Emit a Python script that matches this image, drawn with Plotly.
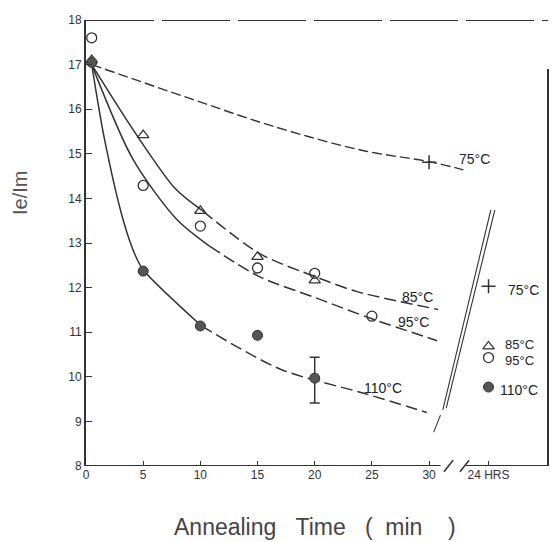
import plotly.graph_objects as go

# ---- data ----
# fitted curves
t_75_curve = [0.5, 9.2, 16.2, 24.1, 30.3, 33.0]
v_75_curve = [17.0, 16.23, 15.63, 15.08, 14.81, 14.64]

t_85_curve = [0.5, 4.2, 7.8, 10.2, 15.2, 20.2, 23.7, 30.8]
v_85_curve = [17.0, 15.51, 14.22, 13.72, 12.76, 12.23, 11.91, 11.51]

t_95_curve = [0.5, 4.1, 7.9, 10.8, 15.2, 20.0, 25.0, 30.7]
v_95_curve = [17.0, 14.88, 13.54, 12.93, 12.24, 11.78, 11.3, 10.81]

t_110_curve = [0.5, 1.6, 3.3, 4.3, 5.0, 10.1, 17.0, 24.3, 29.8]
v_110_curve = [17.0, 15.35, 13.47, 12.73, 12.4, 11.14, 10.17, 9.63, 9.2]

# measured points
t_75_pts = [30]
v_75_pts = [14.81]
t_85_pts = [0.5, 5, 10, 15, 20]
v_85_pts = [17.1, 15.42, 13.72, 12.69, 12.16]
t_95_pts = [0.5, 5, 10, 15, 20, 25]
v_95_pts = [17.6, 14.29, 13.38, 12.44, 12.32, 11.36]
t_110_pts = [0.5, 5, 10, 15, 20]
v_110_pts = [17.05, 12.37, 11.14, 10.93, 9.97]
err_110_plus = [0, 0, 0, 0, 0.47]
err_110_minus = [0, 0, 0, 0, 0.56]

# 24 hour values
t_24h = 35.2
v_24h = {"75": 12.03, "85": 10.68, "95": 10.43, "110": 9.77}

x_tickvals = [0, 5, 10, 15, 20, 25, 30, t_24h]
x_ticktext = ["0", "5", "10", "15", "20", "25", "30", "24 HRS"]
y_tickvals = [8, 9, 10, 11, 12, 13, 14, 15, 16, 17, 18]

INK = "#333333"
FONT = "Liberation Sans"
X_MAX = 40.4

# page offset (browser body margin) compensation
OFF = 8
W, H = 560 - OFF, 542 - OFF
PL, PT, PW, PH = 86, 20, 462, 446   # plot area in window pixels


def px(xp):
    return (xp - PL) / PW


def py(yp):
    return 1 - (yp - PT) / PH


fig = go.Figure()


def curve(t, v, split, dash_after="12px,5px"):
    fig.add_trace(go.Scatter(x=t[:split + 1], y=v[:split + 1], mode="lines",
                             line=dict(color=INK, width=1.5, shape="spline", smoothing=0.8),
                             hoverinfo="skip", showlegend=False))
    fig.add_trace(go.Scatter(x=t[split:], y=v[split:], mode="lines",
                             line=dict(color=INK, width=1.5, shape="spline", smoothing=0.8,
                                       dash=dash_after),
                             hoverinfo="skip", showlegend=False))


# 75 C dashed line
fig.add_trace(go.Scatter(x=t_75_curve, y=v_75_curve, mode="lines",
                         line=dict(color=INK, width=1.4, shape="spline", dash="10px,4px"),
                         showlegend=False))
curve(t_85_curve, v_85_curve, 3)
curve(t_95_curve, v_95_curve, 3)
curve(t_110_curve, v_110_curve, 5)

# markers
fig.add_trace(go.Scatter(x=t_75_pts + [t_24h], y=v_75_pts + [v_24h["75"]], mode="markers",
                         marker=dict(symbol="cross-thin", size=10, line=dict(color=INK, width=1.5)),
                         showlegend=False))
fig.add_trace(go.Scatter(x=t_85_pts + [t_24h], y=v_85_pts + [v_24h["85"]], mode="markers",
                         marker=dict(symbol="triangle-up-open", size=10, color=INK,
                                     line=dict(color=INK, width=1.3)),
                         showlegend=False))
fig.add_trace(go.Scatter(x=t_95_pts + [t_24h], y=v_95_pts + [v_24h["95"]], mode="markers",
                         marker=dict(symbol="circle-open", size=10, color=INK,
                                     line=dict(color=INK, width=1.3)),
                         showlegend=False))
fig.add_trace(go.Scatter(x=t_110_pts + [t_24h], y=v_110_pts + [v_24h["110"]], mode="markers",
                         marker=dict(symbol="circle", size=10, color="#555555",
                                     line=dict(color="#333333", width=1)),
                         error_y=dict(type="data", array=err_110_plus + [0],
                                      arrayminus=err_110_minus + [0],
                                      color=INK, thickness=1.5, width=5),
                         showlegend=False))

# labels
labels = [
    (34.0, 14.88, "75°C", 14),
    (29.0, 11.80, "85°C", 14),
    (28.6, 11.22, "95°C", 14),
    (26.0, 9.74, "110°C", 14),
    (38.3, 11.95, "75°C", 14),
    (37.9, 10.73, "85°C", 13),
    (37.9, 10.36, "95°C", 13),
    (37.9, 9.70, "110°C", 14),
]
ann = [dict(x=x, y=y, text=s, showarrow=False, xanchor="center", yanchor="middle",
            font=dict(family=FONT, size=fs, color="#222222")) for x, y, s, fs in labels]
NB = "\u00a0"
title_text = "Annealing" + NB * 3 + "Time" + NB * 3 + "(" + NB * 2 + "min" + NB * 4 + ")"
ann.append(dict(x=px(315), y=py(527), xref="paper", yref="paper",
                text=title_text, xanchor="center", yanchor="middle",
                showarrow=False, font=dict(family=FONT, size=23, color="#444444")))
ann.append(dict(x=px(20), y=py(193), xref="paper", yref="paper",
                text="Ie/Im", textangle=-90, xanchor="center", yanchor="middle",
                showarrow=False, font=dict(family=FONT, size=20, color="#555555")))

shapes = [
    # top border (dashed)
    dict(type="line", xref="x", yref="y", x0=0, x1=X_MAX, y0=18, y1=18,
         line=dict(color=INK, width=2.2, dash="68px,8px")),
    # right border
    dict(type="line", xref="paper", yref="y", x0=1, x1=1, y0=8, y1=16.9,
         line=dict(color=INK, width=2)),
    # x axis with break
    dict(type="line", xref="x", yref="y", x0=0, x1=31.0, y0=8, y1=8,
         line=dict(color=INK, width=2)),
    dict(type="line", xref="x", yref="y", x0=33.2, x1=X_MAX, y0=8, y1=8,
         line=dict(color=INK, width=2)),
    dict(type="line", xref="x", yref="paper", x0=31.3, x1=32.1, y0=-0.013, y1=0.013,
         line=dict(color=INK, width=1.6)),
    dict(type="line", xref="x", yref="paper", x0=32.7, x1=33.5, y0=-0.013, y1=0.013,
         line=dict(color=INK, width=1.6)),
    # break marks across the plot
    dict(type="line", xref="x", yref="y", x0=35.4, x1=31.2, y0=13.74, y1=9.26,
         line=dict(color=INK, width=1.1)),
    dict(type="line", xref="x", yref="y", x0=35.75, x1=31.5, y0=13.74, y1=9.3,
         line=dict(color=INK, width=1.1)),
    dict(type="line", xref="x", yref="y", x0=31.0, x1=30.4, y0=9.14, y1=8.76,
         line=dict(color=INK, width=1.1)),
]

fig.update_layout(
    width=W, height=H,
    margin=dict(l=PL - OFF, r=W - (PL - OFF) - PW, t=PT - OFF, b=H - (PT - OFF) - PH),
    paper_bgcolor="white", plot_bgcolor="white",
    font=dict(family=FONT, size=12, color="#333333"),
    showlegend=False,
    annotations=ann,
    shapes=shapes,
    xaxis=dict(range=[0, X_MAX], tickvals=x_tickvals, ticktext=x_ticktext,
               ticks="inside", ticklen=5, tickcolor=INK, tickwidth=1,
               showgrid=False, zeroline=False, showline=False, automargin=False,
               tickfont=dict(family=FONT, size=12, color="#333333")),
    yaxis=dict(range=[8, 18], tickvals=y_tickvals,
               ticks="inside", ticklen=6, tickcolor=INK, tickwidth=1.2,
               showgrid=False, zeroline=False, showline=True, linecolor=INK, linewidth=2,
               automargin=False,
               tickfont=dict(family=FONT, size=12, color="#333333")),
)

fig.write_html("out.html")
